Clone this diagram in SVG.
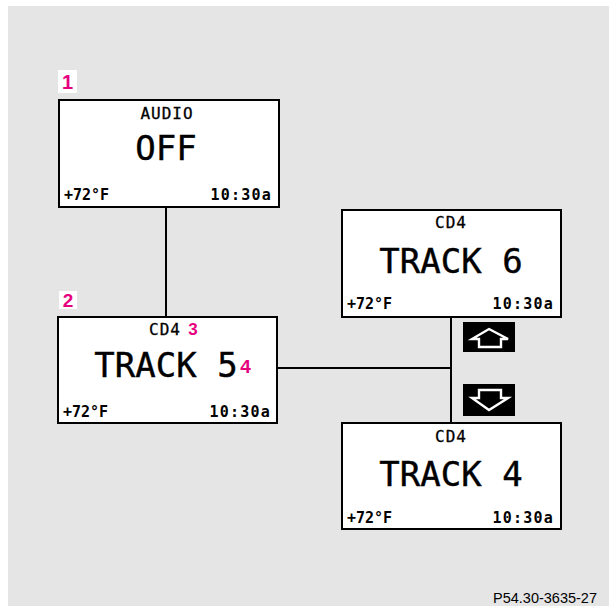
<svg xmlns="http://www.w3.org/2000/svg" width="609" height="606" viewBox="0 0 609 606">
<style>
.box{fill:#fff;stroke:#000;stroke-width:2}
.conn{stroke:#000;stroke-width:2;fill:none}
.sm{font-family:"DejaVu Sans Mono",monospace;font-size:16px;fill:#000;text-anchor:middle;letter-spacing:1px;stroke:#000;stroke-width:0.3}
.big{font-family:"DejaVu Sans Mono",monospace;font-size:34px;fill:#000;text-anchor:middle;stroke:#000;stroke-width:0.4}
.ft{font-family:"DejaVu Sans Mono",monospace;font-size:15px;font-weight:bold;fill:#000}
.tm{letter-spacing:1.2px;text-anchor:end}
.mag{font-family:"Liberation Sans",Arial,sans-serif;font-weight:bold;fill:#e6007e}
.lbl{fill:#fff}
.key{fill:#000}
.arr{fill:#000;stroke:#fff;stroke-width:2.4;stroke-linejoin:miter}
</style>
<rect x="8" y="6" width="601" height="600" fill="#e5e5e5"/>
<g id="connectors">
<line class="conn" x1="166" y1="207" x2="166" y2="317"/>
<line class="conn" x1="277" y1="368" x2="451" y2="368"/>
<line class="conn" x1="451" y1="317" x2="451" y2="423"/>
</g>
<g id="node1">
<rect class="lbl" x="58" y="70" width="19" height="23"/>
<text class="mag" x="67.5" y="89" font-size="20" text-anchor="middle">1</text>
<rect class="box" x="59" y="100" width="220" height="107"/>
<text class="sm" x="167" y="119">AUDIO</text>
<text class="big" x="166" y="160">OFF</text>
<text class="ft" x="64" y="200">+72°F</text>
<text class="ft tm" x="272" y="200">10:30a</text>
</g>
<g id="node2">
<rect class="lbl" x="59" y="291" width="18" height="18"/>
<text class="mag" x="68" y="307" font-size="19" text-anchor="middle">2</text>
<rect class="box" x="58" y="317" width="219" height="106"/>
<text class="sm" x="165" y="335">CD4</text>
<text class="mag" x="193" y="335" font-size="17" text-anchor="middle">3</text>
<text class="big" x="166" y="377">TRACK 5</text>
<text class="mag" x="245.5" y="373" font-size="19" text-anchor="middle">4</text>
<text class="ft" x="63" y="417">+72°F</text>
<text class="ft tm" x="271" y="417">10:30a</text>
</g>
<g id="node3">
<rect class="box" x="342" y="210" width="219" height="107"/>
<text class="sm" x="451" y="228">CD4</text>
<text class="big" x="451" y="273">TRACK 6</text>
<text class="ft" x="347" y="309">+72°F</text>
<text class="ft tm" x="554" y="309">10:30a</text>
</g>
<g id="node4">
<rect class="box" x="342" y="423" width="219" height="106"/>
<text class="sm" x="451" y="442">CD4</text>
<text class="big" x="451" y="486">TRACK 4</text>
<text class="ft" x="347" y="523">+72°F</text>
<text class="ft tm" x="554" y="523">10:30a</text>
</g>
<g id="key-up">
<rect class="key" x="463" y="322" width="52" height="30"/>
<polygon class="arr" points="489,329 508,339 501,339 501,347 479,347 479,339 472,339"/>
</g>
<g id="key-down">
<rect class="key" x="463" y="384" width="52" height="32"/>
<polygon class="arr" points="479,390 501,390 501,398 508,398 489,410 472,398 479,398"/>
</g>
<text x="597" y="603" font-family="'Liberation Sans',Arial,sans-serif" font-size="14.5" text-anchor="end" fill="#000">P54.30-3635-27</text>
</svg>
